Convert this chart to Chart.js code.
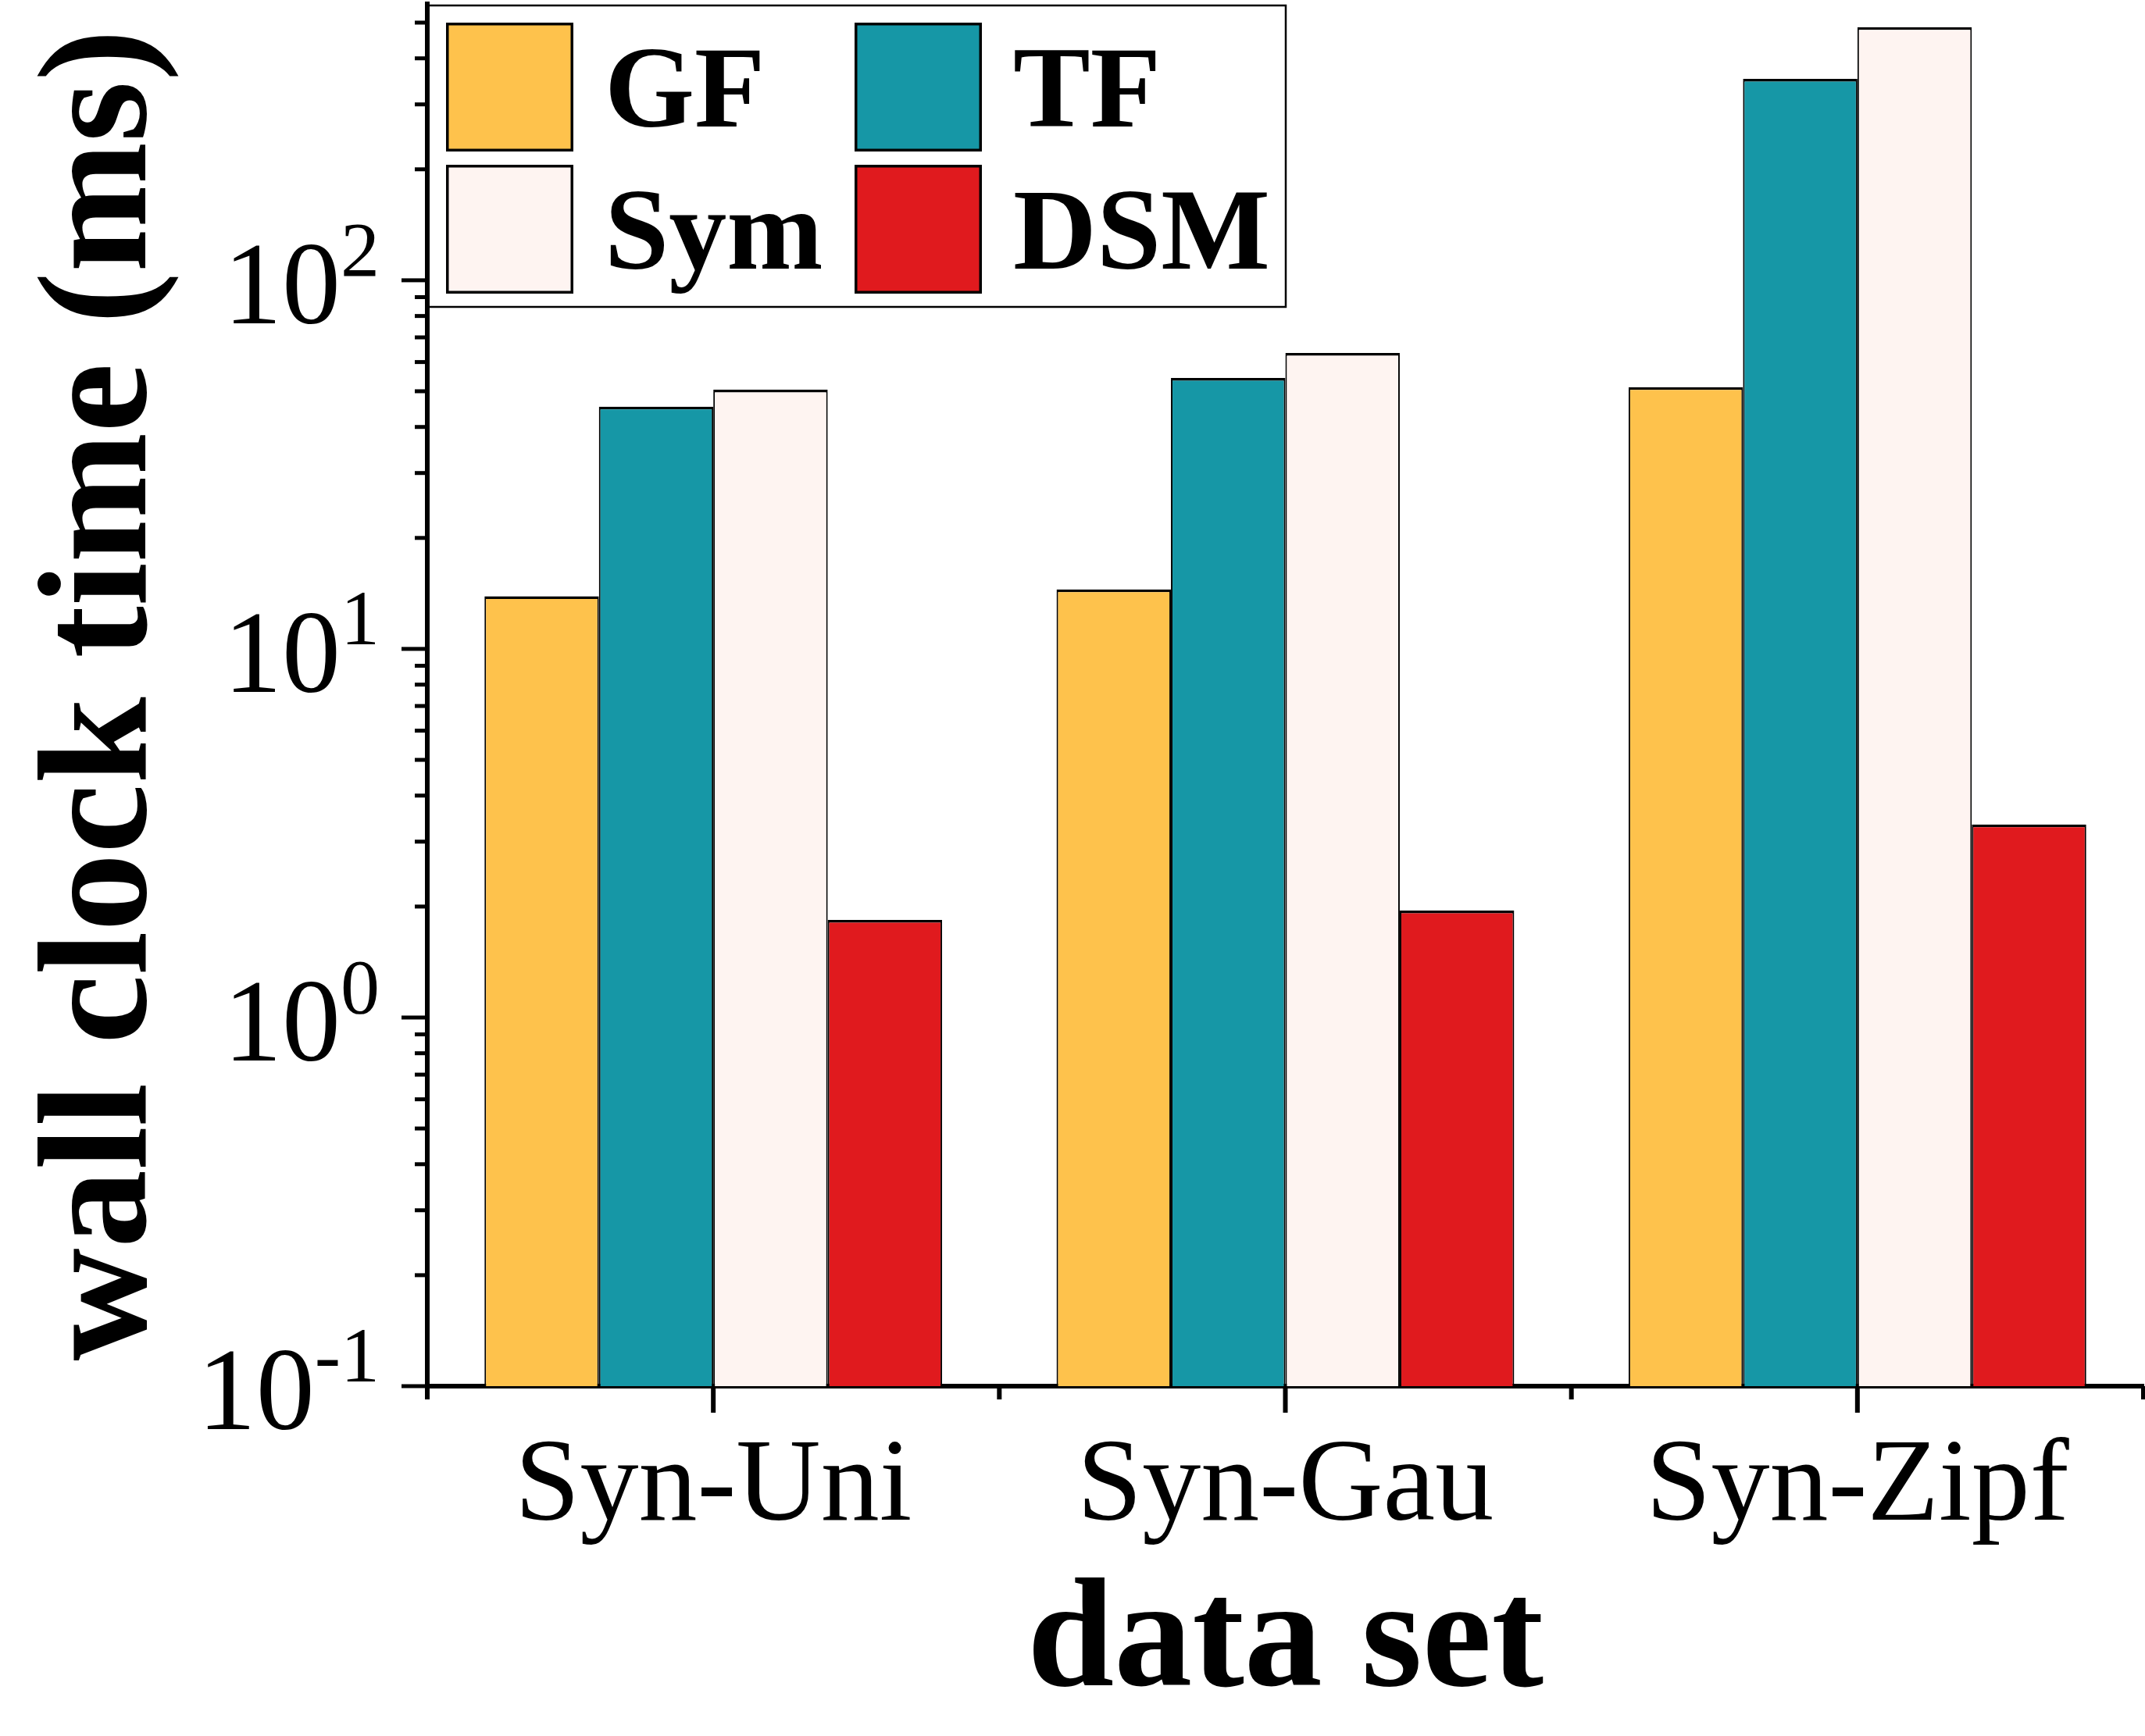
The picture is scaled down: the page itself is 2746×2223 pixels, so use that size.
<!DOCTYPE html>
<html>
<head>
<meta charset="utf-8">
<script src="https://cdn.jsdelivr.net/npm/chart.js@4/dist/chart.umd.min.js"></script>
<style>
  html, body { margin: 0; padding: 0; background: #fff; overflow: hidden; }
  canvas { display: block; }
</style>
</head>
<body>
<canvas id="grafico" width="2746" height="2223"></canvas>
<script>
// dados (escala log, ms)
const categorias = ['Syn-Uni', 'Syn-Gau', 'Syn-Zipf'];
const nomesSeries = ['GF', 'TF', 'Sym', 'DSM'];
const valoresGF = [13.9, 14.5, 51.3];
const valoresTF = [45.4, 54.3, 352];
const valoresSym = [50.5, 63.5, 486];
const valoresDSM = [1.84, 1.95, 3.34];
const coresSeries = ['#FEC24C', '#1697A6', '#FEF4F1', '#E01A1E'];
const ticksPrincipais = [0.1, 1, 10, 100];
const expoentes = ['-1', '0', '1', '2'];
const yMin = 0.1;
const yMax = 562;

const serif = "'Liberation Serif', 'Times New Roman', serif";
Chart.defaults.font.family = serif;
Chart.defaults.color = '#000';

// ticks maiores/menores e rótulos 10^n desenhados à mão
const eixos = {
    id: 'eixos',
    afterDraw(chart) {
        const { ctx, chartArea: a, scales: { x, y } } = chart;
        ctx.save();
        ctx.fillStyle = '#000';

        for (let e = -1; e <= 2; e++) {
            for (let m = 1; m <= 9; m++) {
                const v = m * Math.pow(10, e);
                if (v > y.max * 1.0001) break;
                const py = y.getPixelForValue(v);
                const len = m === 1 ? 33 : 16;
                ctx.fillRect(a.left - len, py - 2.5, len, 5);
            }
        }

        ctx.textAlign = 'right';
        ctx.textBaseline = 'alphabetic';
        ticksPrincipais.forEach((v, i) => {
            const py = y.getPixelForValue(v);
            const xr = a.left - 61;
            ctx.font = '100px ' + serif;
            ctx.fillText(expoentes[i], xr, py - 6);
            const w = ctx.measureText(expoentes[i]).width;
            ctx.font = '150px ' + serif;
            ctx.fillText('10', xr - w, py + 55);
        });

        const passo = x.getPixelForValue(1) - x.getPixelForValue(0);
        categorias.forEach((_, i) => {
            const px = x.getPixelForValue(i);
            ctx.fillRect(px - 3, a.bottom, 6, 34);
        });
        for (let i = 0; i <= categorias.length; i++) {
            const bx = x.getPixelForValue(0) - passo / 2 + i * passo;
            ctx.fillRect(bx - 3, a.bottom, 6, 17);
        }
        ctx.restore();
    }
};

// legenda 2x2 com moldura, como no original
const legenda = {
    id: 'legenda',
    afterDraw(chart) {
        const { ctx, chartArea: a } = chart;
        const ds = chart.data.datasets;
        const left = a.left, top = a.top + 2;
        ctx.save();
        ctx.strokeStyle = '#000';
        ctx.lineWidth = 2.5;
        ctx.strokeRect(left, top, 1099, 386);
        ctx.font = 'bold 148px ' + serif;
        ctx.textAlign = 'left';
        ctx.textBaseline = 'alphabetic';
        ds.forEach((d, i) => {
            const col = i % 2, row = Math.floor(i / 2);
            const sx = left + 24 + col * 523;
            const sy = top + 22 + row * 182;
            ctx.fillStyle = '#000';
            ctx.fillRect(sx, sy, 163, 165);
            ctx.fillStyle = d.backgroundColor;
            ctx.fillRect(sx + 3.5, sy + 3.5, 156, 158);
            ctx.fillStyle = '#000';
            ctx.fillText(d.label, sx + 203, sy + 133);
        });
        ctx.restore();
    }
};

const series = [valoresGF, valoresTF, valoresSym, valoresDSM];

new Chart(document.getElementById('grafico'), {
    type: 'bar',
    data: {
        labels: categorias,
        datasets: series.map((valores, i) => ({
            label: nomesSeries[i],
            data: valores,
            backgroundColor: coresSeries[i],
            borderColor: '#000',
            borderWidth: { top: 3.5, left: 2, right: 2, bottom: 0 },
            borderSkipped: 'start',
            barPercentage: 1.0,
            categoryPercentage: 0.8
        }))
    },
    options: {
        responsive: false,
        devicePixelRatio: 1,
        animation: false,
        layout: { padding: { top: 5, right: 2, bottom: 0, left: 0 } },
        plugins: {
            legend: { display: false },
            tooltip: { enabled: false }
        },
        scales: {
            x: {
                grid: { display: true, drawOnChartArea: false, drawTicks: false },
                border: { display: true, width: 6, color: '#000' },
                ticks: { font: { size: 150 }, color: '#000', padding: 42, maxRotation: 0, autoSkip: false },
                title: {
                    display: true,
                    text: 'data set',
                    color: '#000',
                    font: { size: 200, weight: 'bold', lineHeight: 1.1 },
                    padding: { top: 0, bottom: 7 }
                },
                afterFit(s) { s.height = 448; }
            },
            y: {
                type: 'logarithmic',
                min: yMin,
                max: yMax,
                grid: { display: true, drawOnChartArea: false, drawTicks: false },
                border: { display: true, width: 6, color: '#000' },
                ticks: { display: false },
                title: {
                    display: true,
                    text: 'wall clock time (ms)',
                    color: '#000',
                    font: { size: 200, weight: 'bold' },
                    padding: { top: 14, bottom: 0 }
                },
                afterFit(s) { s.width = 547; }
            }
        }
    },
    plugins: [eixos, legenda]
});
</script>
</body>
</html>
